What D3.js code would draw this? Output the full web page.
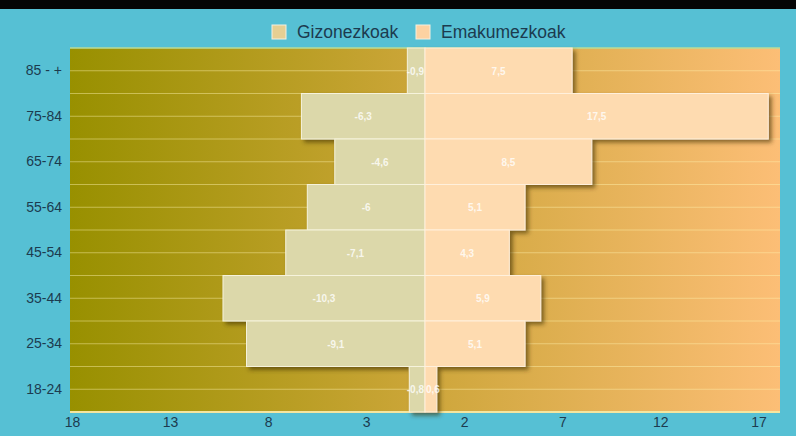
<!DOCTYPE html>
<html>
<head>
<meta charset="utf-8">
<script src="https://cdn.jsdelivr.net/npm/d3@7"></script>
<style>
  html, body { margin: 0; padding: 0; background: #56c0d4; }
  svg { display: block; font-family: "Liberation Sans", Arial, sans-serif; }
</style>
</head>
<body>
<div id="chart"></div>
<script>
// adin taldeak (goitik behera)
const ageGroups = ["85 - +", "75-84", "65-74", "55-64", "45-54", "35-44", "25-34", "18-24"];
const menValues = [-0.9, -6.3, -4.6, -6, -7.1, -10.3, -9.1, -0.8];
const womenValues = [7.5, 17.5, 8.5, 5.1, 4.3, 5.9, 5.1, 0.6];
const xTickValues = [-18, -13, -8, -3, 2, 7, 12, 17];
const seriesNames = ["Gizonezkoak", "Emakumezkoak"];

const width = 796, height = 436;
const margin = { top: 48, right: 16, bottom: 24, left: 70 };
const innerW = width - margin.left - margin.right;
const innerH = height - margin.top - margin.bottom;

const svg = d3.select("#chart").append("svg")
  .attr("width", width)
  .attr("height", height);

const defs = svg.append("defs");
const grad = defs.append("linearGradient")
  .attr("id", "bg-grad")
  .attr("x1", "0%").attr("x2", "100%").attr("y1", "0%").attr("y2", "0%");
grad.append("stop").attr("offset", "0%").attr("stop-color", "#989000");
grad.append("stop").attr("offset", "50%").attr("stop-color", "#cda63a");
grad.append("stop").attr("offset", "100%").attr("stop-color", "#fcbe76");

const shadow = defs.append("filter").attr("id", "shadow")
  .attr("x", "-10%").attr("y", "-10%").attr("width", "130%").attr("height", "140%");
shadow.append("feDropShadow")
  .attr("dx", 3).attr("dy", 3).attr("stdDeviation", 2)
  .attr("flood-color", "#3a2a00").attr("flood-opacity", 0.6);

// goiko banda beltza (izenburua moztuta)
svg.append("rect")
  .attr("x", 0).attr("y", 0).attr("width", width).attr("height", 9)
  .attr("fill", "#050505");

const g = svg.append("g")
  .attr("transform", `translate(${margin.left},${margin.top})`);

const x = d3.scaleLinear().domain([-18.1, 18.1]).range([0, innerW]);
const y = d3.scaleBand().domain(ageGroups).range([0, innerH]).padding(0);

// atzealdea
g.append("rect")
  .attr("width", innerW).attr("height", innerH)
  .attr("fill", "url(#bg-grad)");
g.append("line")
  .attr("x1", 0).attr("x2", innerW).attr("y1", 0).attr("y2", 0)
  .attr("stroke", "#b8dc9a").attr("stroke-width", 1.5);
g.append("line")
  .attr("x1", 0).attr("x2", innerW).attr("y1", innerH).attr("y2", innerH)
  .attr("stroke", "#f4e6a0").attr("stroke-width", 2);

// grid horizontalak: banden erdian eta mugetan
const gridYs = [];
ageGroups.forEach((a, i) => {
  gridYs.push(y(a) + y.bandwidth() / 2);
  if (i > 0) gridYs.push(y(a));
});
g.selectAll("line.grid")
  .data(gridYs)
  .join("line")
  .attr("class", "grid")
  .attr("x1", 0).attr("x2", innerW)
  .attr("y1", d => d).attr("y2", d => d)
  .attr("stroke", "#fff3b0").attr("stroke-opacity", 0.45).attr("stroke-width", 1);

const data = ageGroups.map((a, i) => ({ age: a, men: menValues[i], women: womenValues[i] }));
const fmt = v => String(v).replace(".", ",");

// barrak
const bars = g.append("g").attr("filter", "url(#shadow)");
bars.selectAll("rect.men")
  .data(data)
  .join("rect")
  .attr("class", "men")
  .attr("x", d => x(d.men))
  .attr("y", d => y(d.age))
  .attr("width", d => x(0) - x(d.men))
  .attr("height", y.bandwidth())
  .attr("fill", "#dcd8aa")
  .attr("stroke", "#f6f3dc").attr("stroke-width", 1);
bars.selectAll("rect.women")
  .data(data)
  .join("rect")
  .attr("class", "women")
  .attr("x", x(0))
  .attr("y", d => y(d.age))
  .attr("width", d => x(d.women) - x(0))
  .attr("height", y.bandwidth())
  .attr("fill", "#fedbb0")
  .attr("stroke", "#fff0dc").attr("stroke-width", 1);

// balio etiketak (barra estuetan zerotik kanpora lerrokatuta)
const narrow = 30;
g.selectAll("text.vm")
  .data(data)
  .join("text")
  .attr("class", "vm")
  .attr("x", d => (x(0) - x(d.men) < narrow) ? x(0) - 1 : (x(d.men) + x(0)) / 2)
  .attr("y", d => y(d.age) + y.bandwidth() / 2 + 4)
  .attr("text-anchor", d => (x(0) - x(d.men) < narrow) ? "end" : "middle")
  .attr("font-size", 10).attr("font-weight", "bold")
  .attr("fill", "#ffffff").attr("fill-opacity", 0.8)
  .text(d => fmt(d.men));
g.selectAll("text.vw")
  .data(data)
  .join("text")
  .attr("class", "vw")
  .attr("x", d => (x(d.women) - x(0) < narrow) ? x(0) + 1 : (x(d.women) + x(0)) / 2)
  .attr("y", d => y(d.age) + y.bandwidth() / 2 + 4)
  .attr("text-anchor", d => (x(d.women) - x(0) < narrow) ? "start" : "middle")
  .attr("font-size", 10).attr("font-weight", "bold")
  .attr("fill", "#ffffff").attr("fill-opacity", 0.8)
  .text(d => fmt(d.women));

// Y ardatza
g.append("g")
  .call(d3.axisLeft(y).tickSize(0).tickPadding(8))
  .call(s => s.select(".domain").remove())
  .selectAll("text")
  .attr("font-size", 14)
  .attr("font-family", "Liberation Sans, Arial, sans-serif")
  .attr("fill", "#1c3b4f");

// X ardatza
g.append("g")
  .attr("transform", `translate(0,${innerH})`)
  .call(d3.axisBottom(x).tickValues(xTickValues).tickSize(0).tickPadding(5)
    .tickFormat(d => Math.abs(d)))
  .call(s => s.select(".domain").remove())
  .selectAll("text")
  .attr("font-size", 14)
  .attr("font-family", "Liberation Sans, Arial, sans-serif")
  .attr("fill", "#1c3b4f");

// legenda
const legendColors = ["#e6cf93", "#fdd2a2"];
const legend = svg.append("g").attr("transform", "translate(272,25)");
const legX = [0, 144];
seriesNames.forEach((name, i) => {
  const lg = legend.append("g").attr("transform", `translate(${legX[i]},0)`);
  lg.append("rect")
    .attr("width", 14).attr("height", 14)
    .attr("fill", legendColors[i])
    .attr("stroke", "#f4efe0").attr("stroke-width", 1);
  lg.append("text")
    .attr("x", 25).attr("y", 13)
    .attr("font-size", 17.5)
    .attr("fill", "#1c3b4f")
    .text(name);
});
</script>
</body>
</html>
